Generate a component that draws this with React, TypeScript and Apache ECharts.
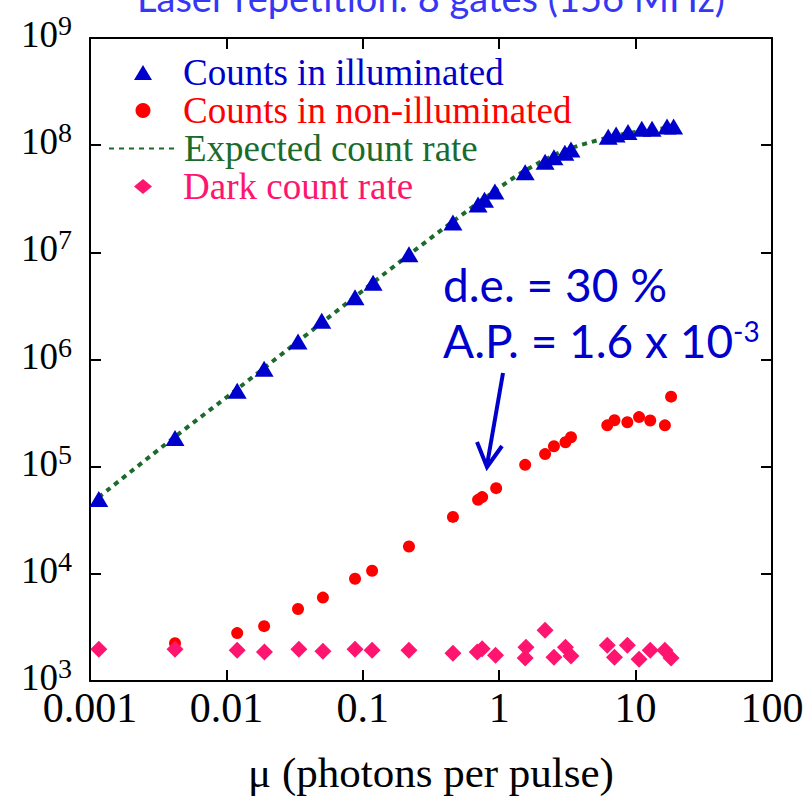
import React, { useEffect, useRef } from 'react';
import * as echarts from 'echarts';

const xTickLabels = ['0.001', '0.01', '0.1', '1', '10', '100'];
const yTickExponents = ['3', '4', '5', '6', '7', '8', '9'];

const titleText = 'Laser repetition: 8 gates (156 MHz)';
const xAxisTitle = 'μ (photons per pulse)';
const seriesNames = ['Counts in illuminated', 'Counts in non-illuminated', 'Expected count rate', 'Dark count rate'];

const illumMu = [0.00116, 0.0042, 0.012, 0.0189, 0.0335, 0.05, 0.0877, 0.119, 0.218, 0.458, 0.7, 0.78, 0.93, 1.55, 2.17, 2.52, 3.03, 3.36, 6.3, 7.2, 8.8, 11.1, 13.2, 17, 19];
const illumCounts = [5.0e4, 1.85e5, 5.1e5, 8.2e5, 1.47e6, 2.3e6, 3.8e6, 5.2e6, 9.6e6, 1.9e7, 2.8e7, 3.1e7, 3.7e7, 5.6e7, 7.0e7, 7.7e7, 8.5e7, 9.1e7, 1.2e8, 1.26e8, 1.33e8, 1.42e8, 1.42e8, 1.49e8, 1.49e8];

const nonIllumMu = [0.0042, 0.012, 0.0189, 0.0335, 0.051, 0.0877, 0.117, 0.218, 0.458, 0.7, 0.75, 0.95, 1.55, 2.17, 2.52, 3.06, 3.36, 6.2, 7.0, 8.7, 10.6, 12.8, 16.4, 18.2];
const nonIllumCounts = [2250, 2800, 3250, 4700, 6000, 9000, 10700, 18000, 34000, 49000, 52000, 63000, 104000, 131000, 155000, 169000, 188000, 243000, 271000, 260000, 290000, 270000, 243000, 450000];

const expMu = [0.00116, 0.0042, 0.012, 0.05, 0.218, 0.46, 0.93, 1.55, 3.0, 6.3, 10, 18];
const expCounts = [5.2e4, 1.9e5, 5.3e5, 2.2e6, 9.5e6, 1.95e7, 3.75e7, 5.8e7, 8.9e7, 1.18e8, 1.33e8, 1.46e8];

const darkMu = [0.00116, 0.0042, 0.012, 0.019, 0.034, 0.051, 0.0877, 0.117, 0.218, 0.458, 0.69, 0.75, 0.94, 1.57, 1.55, 2.17, 2.52, 3.06, 3.36, 6.2, 7.0, 8.7, 10.6, 12.8, 16.4, 18.2];
const darkCounts = [1980, 1980, 1940, 1860, 1980, 1900, 1980, 1940, 1940, 1820, 1860, 2000, 1740, 2070, 1640, 2980, 1670, 2070, 1710, 2160, 1670, 2160, 1600, 1940, 1940, 1640];

const BLUE = '#0000cc';
const RED = '#ff0000';
const GREEN = '#1b6b2c';
const PINK = '#ff1470';
const SERIF = '"Liberation Serif", "Times New Roman", serif';
const SANS = 'Lato, "Noto Sans", sans-serif';

const pairs = (xs: number[], ys: number[]) => xs.map((x, i) => [x, ys[i]]);

export default function App() {
  const ref = useRef<HTMLDivElement>(null);
  useEffect(() => {
    document.body.style.margin = '0';
    const chart = echarts.init(ref.current!, null, { renderer: 'svg' });
    const xLabel = (v: number) => {
      const i = Math.round(Math.log10(v)) + 3;
      return xTickLabels[i] ?? '';
    };
    const yLabel = (v: number) => {
      const i = Math.round(Math.log10(v)) - 3;
      const e = yTickExponents[i];
      return e === undefined ? '' : `{b|10}{s|${e}}`;
    };
    const axisLine = { show: true, lineStyle: { color: '#000', width: 2 } };
    const axisTick = { show: true, inside: true, length: 11, lineStyle: { color: '#000', width: 2 } };
    const legendBase = {
      orient: 'vertical',
      padding: 0,
      itemGap: 1,
      itemHeight: 15,
      selectedMode: false,
    };
    const scatterLegendText = { fontFamily: SERIF, fontSize: 37, lineHeight: 37, padding: [0, 0, 0, 26] };
    chart.setOption({
      animation: false,
      backgroundColor: '#fff',
      grid: { left: 90, right: 37, top: 38, bottom: 115, containLabel: false },
      legend: [
        {
          ...legendBase,
          left: 134,
          top: 54,
          itemWidth: 18,
          textStyle: scatterLegendText,
          data: [
            { name: seriesNames[0], textStyle: { color: BLUE } },
            { name: seriesNames[1], textStyle: { color: RED } },
          ],
        },
        {
          ...legendBase,
          left: 108,
          top: 54 + 2 * 38,
          itemWidth: 67,
          textStyle: { fontFamily: SERIF, fontSize: 37, lineHeight: 37, padding: [0, 0, 0, 3] },
          data: [{ name: seriesNames[2], textStyle: { color: GREEN }, itemStyle: { opacity: 0 } }],
        },
        {
          ...legendBase,
          left: 134,
          top: 54 + 3 * 38,
          itemWidth: 18,
          textStyle: scatterLegendText,
          data: [{ name: seriesNames[3], textStyle: { color: PINK } }],
        },
      ],
      xAxis: [
        {
          type: 'log',
          logBase: 10,
          min: 0.001,
          max: 100,
          position: 'bottom',
          axisLine,
          axisTick,
          splitLine: { show: false },
          minorTick: { show: false },
          axisLabel: { formatter: xLabel, fontFamily: SERIF, fontSize: 42, color: '#000', margin: 6 },
          name: xAxisTitle,
          nameLocation: 'middle',
          nameGap: 70,
          nameTextStyle: { fontFamily: SERIF, fontSize: 43, color: '#000' },
        },
        {
          type: 'log',
          logBase: 10,
          min: 0.001,
          max: 100,
          position: 'top',
          axisLine,
          axisTick,
          splitLine: { show: false },
          axisLabel: { show: false },
        },
      ],
      yAxis: [
        {
          type: 'log',
          logBase: 10,
          min: 1000,
          max: 1e9,
          position: 'left',
          axisLine,
          axisTick,
          splitLine: { show: false },
          axisLabel: {
            formatter: yLabel,
            margin: 18,
            color: '#000',
            padding: [0, 0, 16, 0],
            rich: {
              b: { fontFamily: SERIF, fontSize: 37, lineHeight: 37, color: '#000', padding: [9, 0, 0, 0] },
              s: { fontFamily: SERIF, fontSize: 28, lineHeight: 28, color: '#000', verticalAlign: 'top' },
            },
          },
        },
        {
          type: 'log',
          logBase: 10,
          min: 1000,
          max: 1e9,
          position: 'right',
          axisLine,
          axisTick,
          splitLine: { show: false },
          axisLabel: { show: false },
        },
      ],
      series: [
        {
          name: seriesNames[0],
          type: 'scatter',
          symbol: 'triangle',
          symbolSize: [19, 16],
          itemStyle: { color: BLUE, opacity: 1 },
          data: pairs(illumMu, illumCounts),
          z: 4,
        },
        {
          name: seriesNames[1],
          type: 'scatter',
          symbol: 'circle',
          symbolSize: 12,
          itemStyle: { color: RED, opacity: 1 },
          data: pairs(nonIllumMu, nonIllumCounts),
          z: 3,
        },
        {
          name: seriesNames[2],
          type: 'line',
          symbol: 'none',
          showSymbol: false,
          smooth: 0.3,
          lineStyle: { color: GREEN, width: 4, type: [5, 5] },
          itemStyle: { color: GREEN },
          data: pairs(expMu, expCounts),
          z: 2,
        },
        {
          name: seriesNames[3],
          type: 'scatter',
          symbol: 'diamond',
          symbolSize: [17, 17],
          itemStyle: { color: PINK, opacity: 1 },
          data: pairs(darkMu, darkCounts),
          z: 3,
        },
      ],
      graphic: [
        {
          type: 'text',
          x: 431,
          y: -3,
          style: {
            text: titleText,
            fontFamily: SANS,
            fontSize: 38,
            fill: '#3636f5',
            align: 'center',
            verticalAlign: 'middle',
          },
        },
        {
          type: 'text',
          x: 443,
          y: 284,
          style: {
            text: 'd.e. = 30 %',
            fontFamily: SANS,
            fontSize: 46,
            fill: BLUE,
            align: 'left',
            verticalAlign: 'middle',
          },
        },
        {
          type: 'text',
          x: 443,
          y: 340,
          style: {
            text: '{a|A.P. = 1.6 x 10}{b|-3}',
            align: 'left',
            verticalAlign: 'middle',
            rich: {
              a: { fontFamily: SANS, fontSize: 46, lineHeight: 46, fill: BLUE, color: BLUE },
              b: { fontFamily: SANS, fontSize: 28, lineHeight: 28, fill: BLUE, color: BLUE, verticalAlign: 'top' },
            },
          },
        },
        {
          type: 'line',
          shape: { x1: 503, y1: 373, x2: 487, y2: 465 },
          style: { stroke: BLUE, lineWidth: 4 },
        },
        {
          type: 'polyline',
          shape: { points: [[477, 442], [487, 467], [502, 446]] },
          style: { stroke: BLUE, lineWidth: 4, fill: null },
        },
      ],
    });
    return () => chart.dispose();
  }, []);
  return <div ref={ref} style={{ width: 809, height: 799, position: 'fixed', left: 0, top: 0 }} />;
}
